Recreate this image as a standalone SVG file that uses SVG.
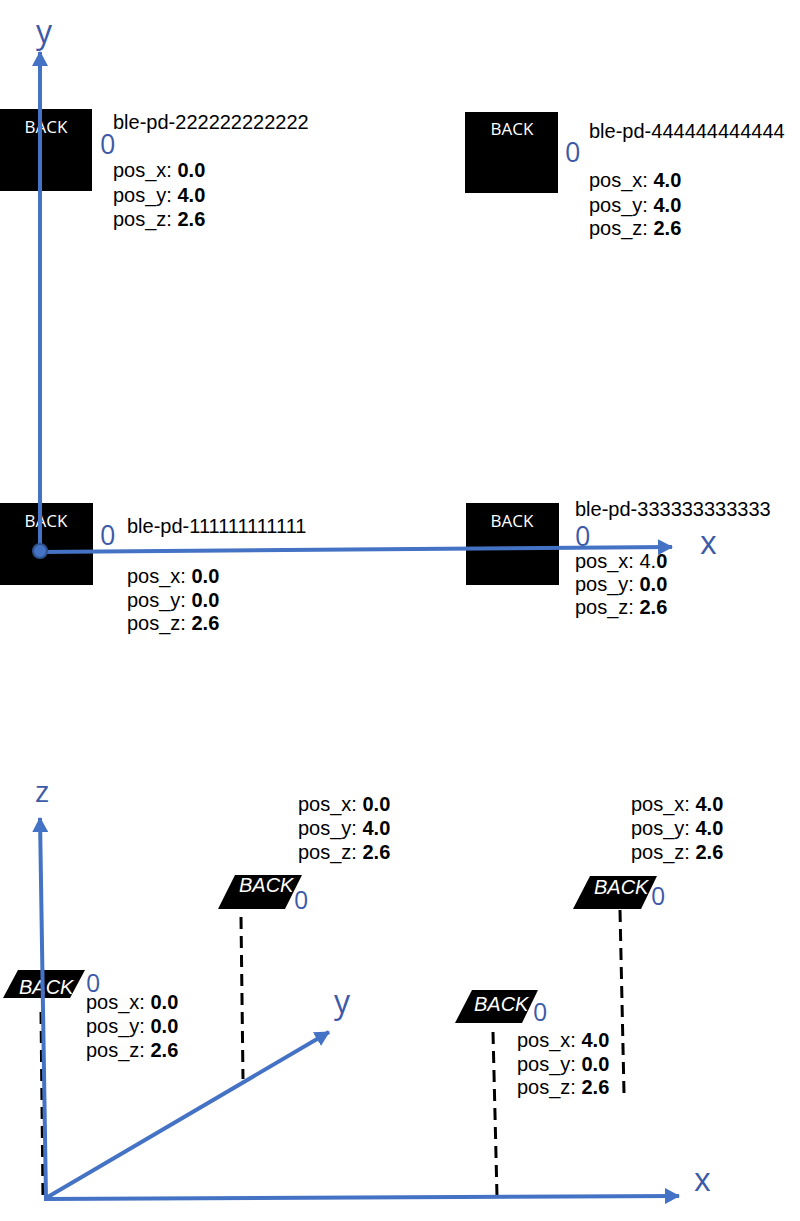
<svg xmlns="http://www.w3.org/2000/svg" width="800" height="1221" viewBox="0 0 800 1221">
<defs>
<marker id="arr" markerUnits="userSpaceOnUse" markerWidth="15" markerHeight="16" refX="14" refY="8" orient="auto">
<path d="M0,0 L15,8 L0,16 z" fill="#4472C4"/>
</marker>
<style>
.axis{stroke:#4472C4;stroke-width:4;fill:none}
.dash{stroke:#000;stroke-width:3;stroke-dasharray:12 7;fill:none}
.box{fill:#000}
.back{font-family:"Open Sans","Noto Sans",sans-serif;font-size:17px;fill:#fff;text-anchor:middle}
.back3{font-family:"Liberation Sans",Arial,sans-serif;font-size:20px;font-style:italic;fill:#fff}
.zero{font-family:"Open Sans","Noto Sans",sans-serif;font-size:27px;fill:#3C5AA8}
.zero3{font-family:"Open Sans","Noto Sans",sans-serif;font-size:25px;fill:#3C5AA8}
.lab{font-family:"Open Sans","Noto Sans",sans-serif;font-size:32px;fill:#3C5AA8}
.t{font-family:"Liberation Sans",Arial,sans-serif;font-size:20px;fill:#000}
.b{font-weight:bold}
</style>
</defs>

<g id="node-222">
<rect class="box" x="0" y="109" width="92" height="82"/>
<text class="back" x="46" y="133">BACK</text>
<text class="zero" x="100" y="154">0</text>
<text class="t" x="113" y="129">ble-pd-222222222222</text>
<text class="t" x="113" y="177">pos_x: <tspan class="b">0.0</tspan></text>
<text class="t" x="113" y="202">pos_y: <tspan class="b">4.0</tspan></text>
<text class="t" x="113" y="226">pos_z: <tspan class="b">2.6</tspan></text>
</g>

<g id="node-444">
<rect class="box" x="465" y="112" width="93" height="81"/>
<text class="back" x="512" y="135">BACK</text>
<text class="zero" x="565" y="162">0</text>
<text class="t" x="589" y="138">ble-pd-444444444444</text>
<text class="t" x="589" y="187">pos_x: <tspan class="b">4.0</tspan></text>
<text class="t" x="589" y="212">pos_y: <tspan class="b">4.0</tspan></text>
<text class="t" x="589" y="235">pos_z: <tspan class="b">2.6</tspan></text>
</g>

<g id="node-111">
<rect class="box" x="0" y="503" width="93" height="82"/>
<text class="back" x="46" y="527">BACK</text>
<text class="zero" x="100" y="545">0</text>
<text class="t" x="127" y="533">ble-pd-111111111111</text>
<text class="t" x="127" y="583">pos_x: <tspan class="b">0.0</tspan></text>
<text class="t" x="127" y="607">pos_y: <tspan class="b">0.0</tspan></text>
<text class="t" x="127" y="630">pos_z: <tspan class="b">2.6</tspan></text>
</g>

<g id="node-333">
<rect class="box" x="466" y="503" width="93" height="82"/>
<text class="back" x="512" y="527">BACK</text>
<text class="zero" x="575" y="546">0</text>
<text class="t" x="575" y="516">ble-pd-333333333333</text>
<text class="t" x="575" y="568">pos_x: 4.<tspan class="b">0</tspan></text>
<text class="t" x="575" y="591">pos_y: <tspan class="b">0.0</tspan></text>
<text class="t" x="575" y="614">pos_z: <tspan class="b">2.6</tspan></text>
</g>

<g id="node3d-000">
<polygon class="box" points="18,970 85,970 70,998 3,998"/>
<text class="back3" x="19" y="994">BACK</text>
<text class="zero3" x="86" y="992">0</text>
<text class="t" x="86" y="1009">pos_x: <tspan class="b">0.0</tspan></text>
<text class="t" x="86" y="1033">pos_y: <tspan class="b">0.0</tspan></text>
<text class="t" x="86" y="1057">pos_z: <tspan class="b">2.6</tspan></text>
</g>

<g id="node3d-040">
<polygon class="box" points="235,875 302,875 285,909 218,909"/>
<text class="back3" x="239" y="892">BACK</text>
<text class="zero3" x="294" y="909">0</text>
<text class="t" x="298" y="811">pos_x: <tspan class="b">0.0</tspan></text>
<text class="t" x="298" y="835">pos_y: <tspan class="b">4.0</tspan></text>
<text class="t" x="298" y="859">pos_z: <tspan class="b">2.6</tspan></text>
</g>

<g id="node3d-440">
<polygon class="box" points="590,876 657,876 641,909 573,909"/>
<text class="back3" x="594" y="894">BACK</text>
<text class="zero3" x="651" y="905">0</text>
<text class="t" x="631" y="811">pos_x: <tspan class="b">4.0</tspan></text>
<text class="t" x="631" y="835">pos_y: <tspan class="b">4.0</tspan></text>
<text class="t" x="631" y="859">pos_z: <tspan class="b">2.6</tspan></text>
</g>

<g id="node3d-400">
<polygon class="box" points="472,990 538,990 522,1023 455,1023"/>
<text class="back3" x="474" y="1011">BACK</text>
<text class="zero3" x="533" y="1021">0</text>
<text class="t" x="517" y="1047">pos_x: <tspan class="b">4.0</tspan></text>
<text class="t" x="517" y="1071">pos_y: <tspan class="b">0.0</tspan></text>
<text class="t" x="517" y="1094">pos_z: <tspan class="b">2.6</tspan></text>
</g>

<g id="connectors">
<line class="dash" x1="41" y1="1012" x2="43" y2="1198"/>
<line class="dash" x1="241" y1="917" x2="243" y2="1079"/>
<line class="dash" x1="620" y1="910" x2="624" y2="1093"/>
<line class="dash" x1="493" y1="1032" x2="497" y2="1196"/>
<line class="axis" x1="40" y1="553" x2="40" y2="52" marker-end="url(#arr)"/>
<line class="axis" x1="40" y1="552" x2="672" y2="547" marker-end="url(#arr)"/>
<circle cx="40" cy="551" r="7" fill="#4472C4" stroke="#2F528F" stroke-width="2"/>
<line class="axis" x1="46" y1="1200" x2="40" y2="818" marker-end="url(#arr)"/>
<line class="axis" x1="46" y1="1198" x2="329" y2="1032" marker-end="url(#arr)"/>
<line class="axis" x1="44" y1="1199" x2="679" y2="1196" marker-end="url(#arr)"/>
</g>

<g id="labels">
<text class="lab" x="36" y="43">y</text>
<text class="lab" x="700" y="554">x</text>
<text class="lab" x="35" y="802" style="font-size:30px">z</text>
<text class="lab" x="334" y="1013">y</text>
<text class="lab" x="694" y="1191">x</text>
</g>
</svg>
